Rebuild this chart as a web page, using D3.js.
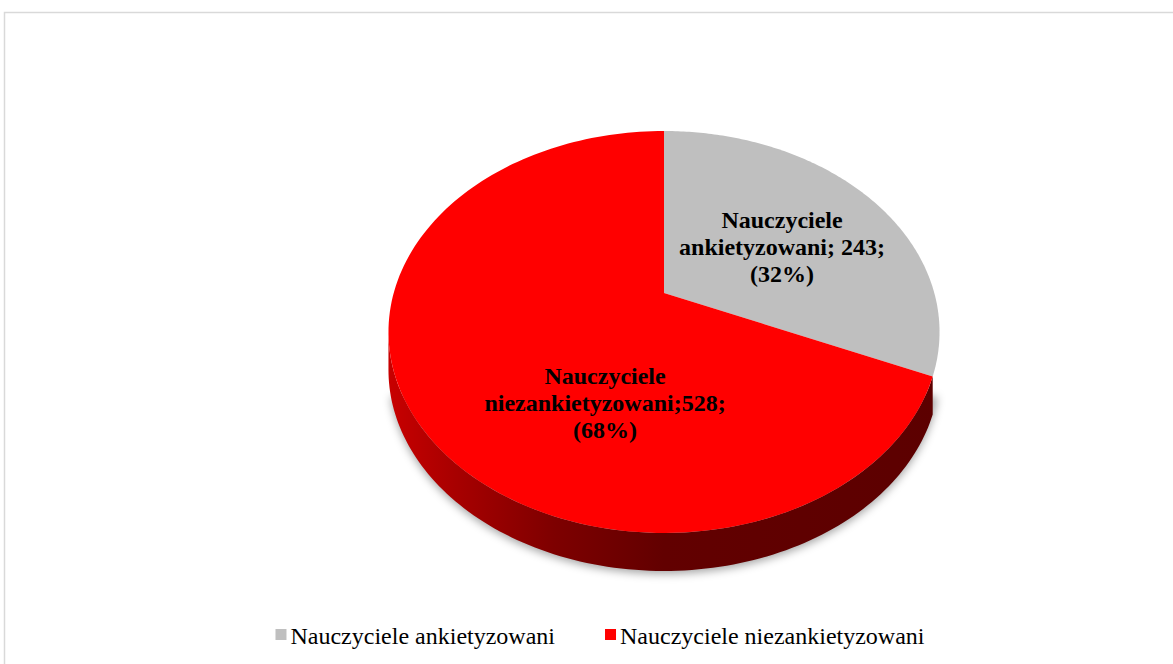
<!DOCTYPE html>
<html>
<head>
<meta charset="utf-8">
<script src="https://cdn.jsdelivr.net/npm/d3@7"></script>
<style>
  html, body { margin: 0; padding: 0; background: #fff; }
  svg { display: block; }
  text { font-family: "Liberation Serif", "Times New Roman", serif; }
</style>
</head>
<body>
<script>
// data
var categories = ["Nauczyciele ankietyzowani", "Nauczyciele niezankietyzowani"];
var values = [243, 528];
var separators = [" ", ""];   // how the value follows the name in each label
var colors = ["#bfbfbf", "#ff0000"];
var sideColors = [null, "url(#sideRed)"];

var svgWidth = 1173;
var svgHeight = 664;

// 3d pie projection (perspective tilt)
var cx = 664, cy = 293;
var rx = 270.3, ry = 193.4;
var persp = 0.194;
var depth = 38;

function proj(theta, r, dz) {
  var u = r * Math.sin(theta),
      v = -r * Math.cos(theta);
  var s = 1 / (1 - persp * v);
  return [cx + rx * u * s, cy + ry * v * s + (dz || 0)];
}
function projPlane(u, v) {
  var s = 1 / (1 - persp * v);
  return [cx + rx * u * s, cy + ry * v * s];
}

var total = d3.sum(values);
var pie = d3.pie().sort(null).startAngle(0).endAngle(2 * Math.PI);
var arcs = pie(values);

var svg = d3.select("body")
            .append("svg")
            .attr("width", svgWidth)
            .attr("height", svgHeight);

var defs = svg.append("defs");
var grad = defs.append("linearGradient")
    .attr("id", "sideRed")
    .attr("gradientUnits", "userSpaceOnUse")
    .attr("x1", cx - rx * 1.02).attr("x2", cx + rx * 1.02)
    .attr("y1", 0).attr("y2", 0);
[[0, "#c80000"], [0.12, "#a80000"], [0.3, "#7e0000"], [0.5, "#620000"], [1, "#5c0000"]]
  .forEach(function(s) {
    grad.append("stop").attr("offset", s[0]).attr("stop-color", s[1]);
  });

var blur = defs.append("filter").attr("id", "shadow")
    .attr("x", "-10%").attr("y", "-10%").attr("width", "120%").attr("height", "130%");
blur.append("feGaussianBlur").attr("stdDeviation", 4);

// chart frame
svg.append("rect")
   .attr("x", 4.5).attr("y", 12.5)
   .attr("width", 1200).attr("height", 700)
   .attr("fill", "#fff")
   .attr("stroke", "#d9d9d9")
   .attr("stroke-width", 1.5);

var line = d3.line();
function sample(a0, a1, n) {
  return d3.range(n + 1).map(function(i) { return a0 + (a1 - a0) * i / n; });
}

// soft shadow under the pie
var ring = sample(Math.PI * 0.6, Math.PI * 1.4, 120);
svg.append("path")
   .attr("d", line([[cx, cy + depth]].concat(ring.map(function(t) { return proj(t, 1.0, depth + 3); }))) + "Z")
   .attr("fill", "rgba(0,0,0,0.35)")
   .attr("filter", "url(#shadow)");

// visible part of the side wall
var thR = Math.acos(-persp), thL = 2 * Math.PI - thR;

svg.selectAll("path.side")
   .data(arcs.filter(function(d, i) { return sideColors[i]; }))
   .enter()
   .append("path")
   .attr("class", "side")
   .attr("d", function(d) {
     var lo = Math.max(d.startAngle, thR), hi = Math.min(d.endAngle, thL);
     if (hi <= lo) return null;
     var ts = sample(lo, hi, 120);
     var top = ts.map(function(t) { return proj(t, 1, 0); });
     var bot = ts.slice().reverse().map(function(t) { return proj(t, 1, depth); });
     return line(top.concat(bot)) + "Z";
   })
   .attr("fill", function(d) { return sideColors[d.index]; });

// top faces
svg.selectAll("path.top")
   .data(arcs)
   .enter()
   .append("path")
   .attr("class", "top")
   .attr("d", function(d) {
     var ts = sample(d.startAngle, d.endAngle, 160);
     return line([[cx, cy]].concat(ts.map(function(t) { return proj(t, 1, 0); }))) + "Z";
   })
   .attr("fill", function(d, i) { return colors[i]; });

// data labels (anchor = middle line baseline, in pie-plane units)
var labelAnchor = [[0.454, -0.204], [-0.195, 0.5455]];
var lineGap = 27;

arcs.forEach(function(d, i) {
  var name = categories[i];
  var first = name.split(" ")[0], rest = name.split(" ").slice(1).join(" ");
  var pct = Math.round(values[i] / total * 100);
  var lines = [first, rest + ";" + separators[i] + values[i] + ";", "(" + pct + "%)"];
  var p = projPlane(labelAnchor[i][0], labelAnchor[i][1]);
  var t = svg.append("text")
     .attr("text-anchor", "middle")
     .attr("font-size", 24)
     .attr("font-weight", "bold")
     .attr("fill", "#000");
  lines.forEach(function(s, j) {
    t.append("tspan")
     .attr("x", p[0])
     .attr("y", p[1] + (j - 1) * lineGap)
     .text(s);
  });
});

// legend
var legend = svg.append("g");
var lx = 0;
categories.forEach(function(c, i) {
  var g = legend.append("g").attr("transform", "translate(" + lx + ",0)");
  g.append("rect")
   .attr("x", 0).attr("y", -15)
   .attr("width", 11).attr("height", 11)
   .attr("fill", colors[i]);
  var tx = g.append("text")
   .attr("x", 15).attr("y", 0)
   .attr("font-size", 24)
   .attr("fill", "#000")
   .text(c);
  lx += 15 + tx.node().getComputedTextLength() + 50;
});
var legendW = lx - 50;
legend.attr("transform", "translate(" + (600 - legendW / 2) + ",644)");
</script>
</body>
</html>
